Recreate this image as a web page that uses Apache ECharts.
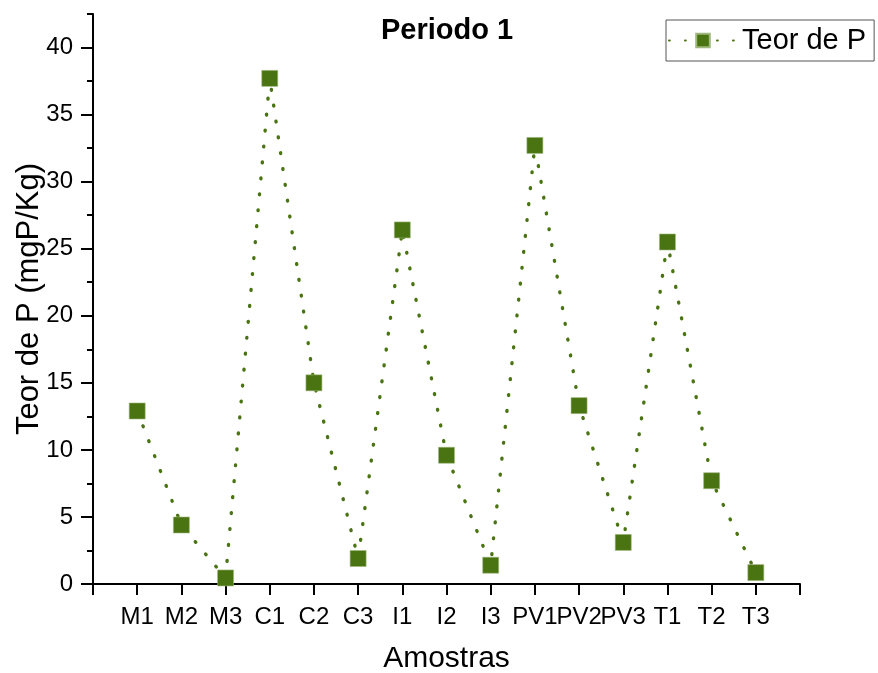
<!DOCTYPE html>
<html>
<head>
<meta charset="utf-8">
<script src="https://cdn.jsdelivr.net/npm/echarts@6/dist/echarts.min.js"></script>
<style>
  html, body { margin: 0; padding: 0; background: #fff; }
  #chart { width: 878px; height: 673px; }
</style>
</head>
<body>
<div id="chart"></div>
<script>
// Sample codes along the x axis
const categories = ['M1', 'M2', 'M3', 'C1', 'C2', 'C3', 'I1', 'I2', 'I3', 'PV1', 'PV2', 'PV3', 'T1', 'T2', 'T3'];
// Phosphorus content (mgP/Kg), period 1
const teorP = [12.9, 4.4, 0.45, 37.7, 15.0, 1.9, 26.4, 9.6, 1.4, 32.7, 13.3, 3.1, 25.5, 7.7, 0.85];
// Y tick labels
const yTicks = [0, 5, 10, 15, 20, 25, 30, 35, 40];

const green = '#4a7311';
const font = '"Liberation Sans", Arial, sans-serif';
// sparse round dots
const dotted = { color: green, width: 3.4, type: [0.8, 15.2], cap: 'round' };

const chart = echarts.init(document.getElementById('chart'), null, { renderer: 'canvas' });

const points = categories.map((c, i) => [i + 1, teorP[i]]);

chart.setOption({
  animation: false,
  backgroundColor: '#fff',
  title: {
    text: 'Periodo 1',
    left: 376,
    top: 11,
    textStyle: { fontFamily: font, fontSize: 29, fontWeight: 'bold', color: '#000' }
  },
  legend: {
    data: ['Teor de P'],
    left: 666,
    top: 20,
    padding: [6, 8, 6, 2],
    borderColor: '#555',
    borderWidth: 1,
    itemWidth: 68,
    itemHeight: 17,
    itemGap: 6,
    textStyle: { fontFamily: font, fontSize: 29, color: '#000' }
  },
  grid: [
    // main plot area, value range 0..42.5
    { left: 93, right: 78, top: 14, bottom: 89, containLabel: false, outerBoundsMode: 'none' },
    // overlay used for the long ticks and labels, value range 0..40
    { left: 93, right: 78, top: 47.5, bottom: 89, containLabel: false, outerBoundsMode: 'none' }
  ],
  xAxis: [
    {
      type: 'value',
      gridIndex: 0,
      min: 0,
      max: 16,
      interval: 1,
      name: 'Amostras',
      nameLocation: 'middle',
      nameGap: 60,
      nameTextStyle: { fontFamily: font, fontSize: 30, color: '#000' },
      axisLine: { show: true, lineStyle: { color: '#000', width: 2 } },
      axisTick: { show: true, inside: false, length: 11, lineStyle: { color: '#000', width: 2 } },
      axisLabel: {
        margin: 21,
        fontFamily: font,
        fontSize: 24,
        color: '#000',
        formatter: v => categories[v - 1] || ''
      },
      splitLine: { show: false }
    },
    {
      type: 'value',
      gridIndex: 1,
      min: 0,
      max: 16,
      show: false
    }
  ],
  yAxis: [
    {
      type: 'value',
      gridIndex: 0,
      min: 0,
      max: 42.5,
      interval: 2.5,
      name: 'Teor de P (mgP/Kg)',
      nameLocation: 'middle',
      nameGap: 48,
      nameTextStyle: { fontFamily: font, fontSize: 31, color: '#000' },
      axisLine: { show: true, lineStyle: { color: '#000', width: 2 } },
      axisTick: { show: true, inside: false, length: 6, lineStyle: { color: '#000', width: 2 } },
      axisLabel: { show: false },
      splitLine: { show: false }
    },
    {
      type: 'value',
      gridIndex: 1,
      min: yTicks[0],
      max: yTicks[yTicks.length - 1],
      interval: 5,
      axisLine: { show: false },
      axisTick: { show: true, inside: false, length: 12, lineStyle: { color: '#000', width: 2 } },
      axisLabel: { margin: 20, fontFamily: font, fontSize: 24, color: '#000' },
      splitLine: { show: false }
    }
  ],
  series: [
    {
      name: 'Teor de P',
      type: 'line',
      xAxisIndex: 0,
      yAxisIndex: 0,
      data: points,
      symbol: 'rect',
      symbolSize: 16,
      itemStyle: { color: green, borderColor: '#9fb87c', borderWidth: 0.6 },
      lineStyle: dotted,
      z: 3
    }
  ]
});
</script>
</body>
</html>
